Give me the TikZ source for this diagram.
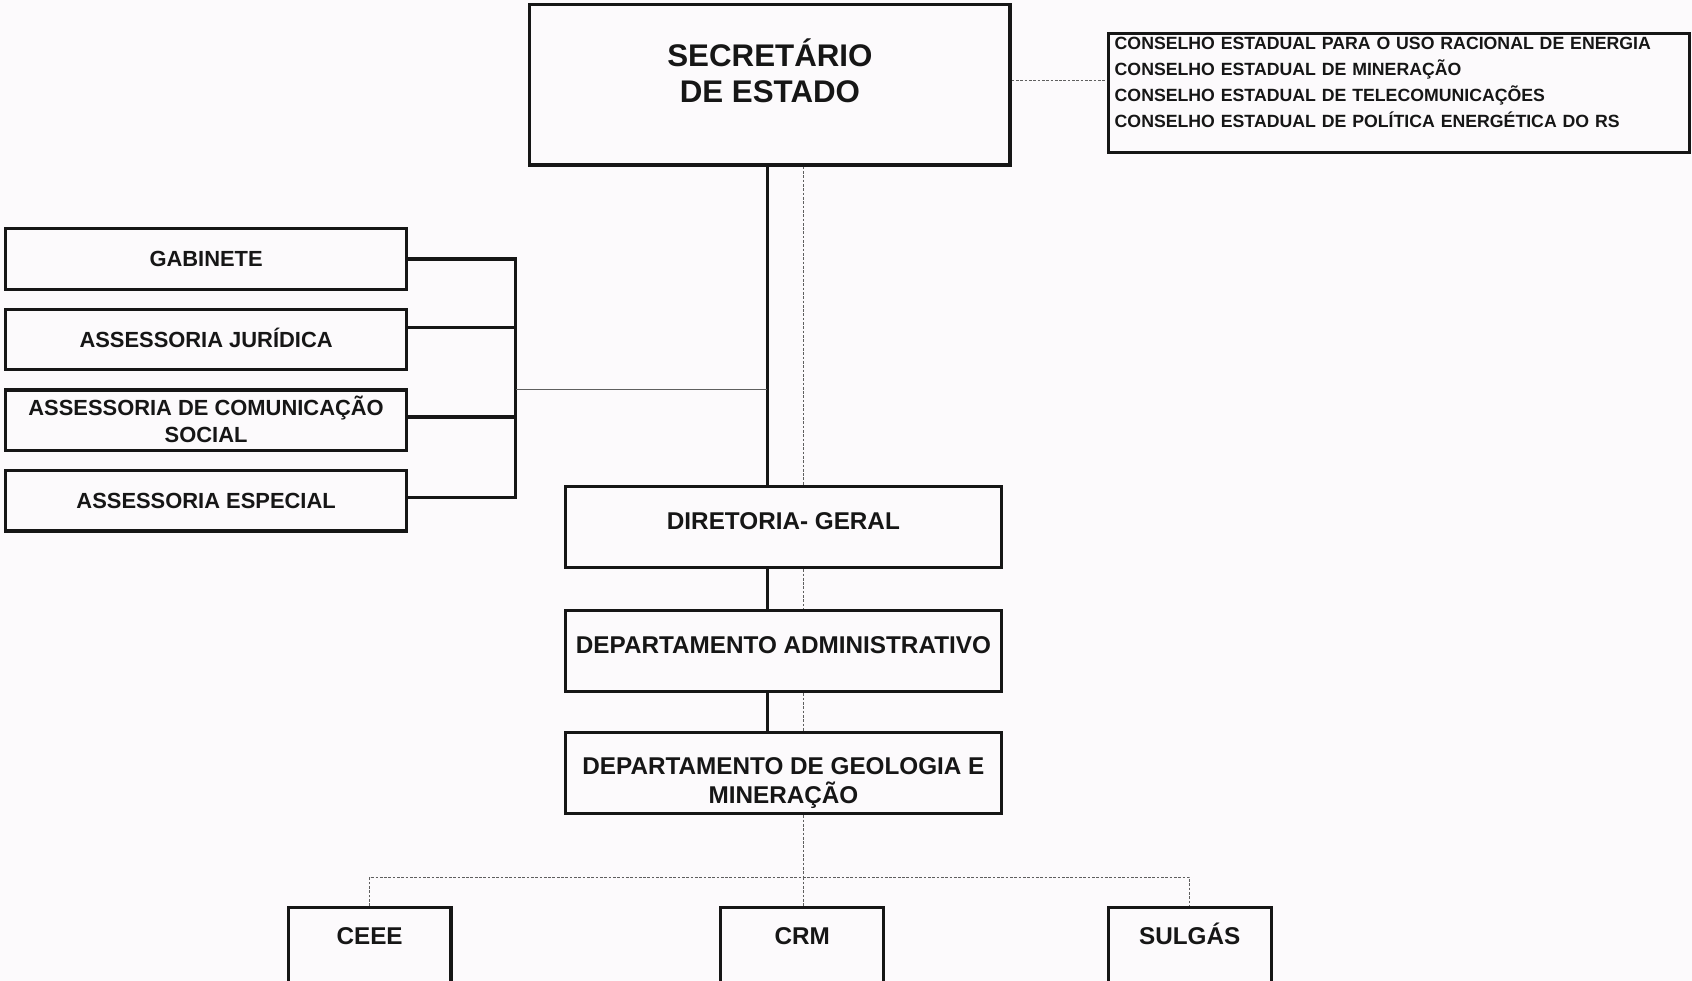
\documentclass[tikz,border=0pt]{standalone}
\usepackage{fontspec}
\setmainfont{Liberation Sans}
\usepackage{xcolor}
\usetikzlibrary{positioning,calc}
\definecolor{ink}{RGB}{22,22,22}
\definecolor{paper}{RGB}{252,250,252}
\definecolor{wire}{RGB}{95,95,95}

\begin{document}
\begin{tikzpicture}[x=1pt,y=-1pt,
  box/.style={rectangle,draw=ink,line width=3pt,inner sep=0pt,align=center,text=ink},
  bigbox/.style={box,minimum width=445pt,minimum height=149pt,font=\fontsize{29}{34}\selectfont\bfseries},
  sidebox/.style={box,minimum width=372pt,minimum height=56pt,font=\fontsize{20.3}{25}\selectfont\bfseries,text height=14.5pt,text depth=0pt},
  deptbox/.style={box,minimum width=404pt,minimum height=75pt,font=\fontsize{22.5}{27}\selectfont\bfseries,text height=16.1pt,text depth=11pt},
  firmbox/.style={box,minimum width=151pt,minimum height=100pt,font=\fontsize{22.5}{27}\selectfont\bfseries,text height=16.1pt,text depth=48pt},
  link/.style={draw=ink,line width=3pt},
  thinlink/.style={draw=wire,line width=1pt},
  dotlink/.style={draw=wire,line width=1pt,dash pattern=on 2.5pt off 1.5pt}
]
\fill[paper] (0,0) rectangle (1568,909);
\useasboundingbox (0,0) rectangle (1568,909);

% top
\node[bigbox,text height=33.8pt,text depth=0pt] (sec) at (713.5,78.5) {SECRETÁRIO\\DE ESTADO};
\node[box,minimum width=539pt,minimum height=110pt,inner xsep=6pt,text width=527pt,align=left,
  font=\fontsize{16.4}{24}\selectfont\bfseries,text height=0pt,text depth=80.2pt] (cons) at (1296.5,86)
  {CONSELHO ESTADUAL PARA O USO RACIONAL DE ENERGIA\\CONSELHO ESTADUAL DE MINERAÇÃO\\CONSELHO ESTADUAL DE TELECOMUNICAÇÕES\\CONSELHO ESTADUAL DE POLÍTICA ENERGÉTICA DO RS};

% assessorias
\node[sidebox] (gab) at (191,240) {GABINETE};
\node[sidebox,below=15.7pt of gab] (jur) {ASSESSORIA JURÍDICA};
\node[sidebox,below=15.7pt of jur,text height=40.5pt] (com) {ASSESSORIA DE COMUNICAÇÃO\\SOCIAL};
\node[sidebox,below=15.7pt of com] (esp) {ASSESSORIA ESPECIAL};

% departamentos
\node[deptbox] (dir) at (726,488.5) {DIRETORIA- GERAL};
\node[deptbox,below=37pt of dir] (adm) {DEPARTAMENTO ADMINISTRATIVO};
\node[deptbox,below=35pt of adm,text height=57.1pt,text depth=0pt] (geo) {DEPARTAMENTO DE GEOLOGIA E\\MINERAÇÃO};

% vinculadas
\node[firmbox] (ceee) at (342.5,891) {CEEE};
\node[firmbox] (crm) at (743.5,891) {CRM};
\node[firmbox] (sul) at (1102.5,891) {SULGÁS};

\coordinate (trunk) at (711,0);
\coordinate (dots) at (745,0);
\coordinate (brk) at (478,361);
\coordinate (bus) at (745,813);
\coordinate (jurtap) at ([yshift=11pt]jur.east);
\coordinate (comtap) at ([yshift=3pt]com.east);
\coordinate (esptap) at ([yshift=3pt]esp.east);
\coordinate (sectap) at ([yshift=3.5pt]sec.east);

\draw[link] (sec.south -| trunk) -- (dir.north -| trunk);
\draw[link] (dir.south -| trunk) -- (adm.north -| trunk);
\draw[link] (adm.south -| trunk) -- (geo.north -| trunk);
\draw[dotlink] (sec.south -| dots) -- (dir.north -| dots);
\draw[dotlink] (dir.south -| dots) -- (adm.north -| dots);
\draw[dotlink] (adm.south -| dots) -- (geo.north -| dots);
\draw[dotlink] (sectap) -- (sectap -| cons.west);

\draw[link] (gab.east) -| (esptap -| brk) -- (esptap);
\draw[link] (jurtap) -- (jurtap -| brk);
\draw[link] (comtap) -- (comtap -| brk);
\draw[thinlink] (brk) -- (brk -| trunk);

\draw[dotlink] (geo.south -| dots) -- (bus);
\draw[dotlink] (ceee.north) |- (bus) -| (sul.north);
\draw[dotlink] (bus) -- (crm.north -| bus);
\end{tikzpicture}
\end{document}
